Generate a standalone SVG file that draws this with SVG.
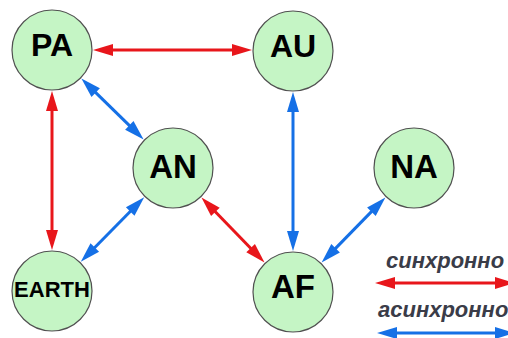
<svg xmlns="http://www.w3.org/2000/svg" width="508" height="338" viewBox="0 0 508 338">
  <style>
    .node circle { fill: #c5f5c5; stroke: #505050; stroke-width: 1.2; }
    .node text { font-family: "Liberation Sans", Arial, sans-serif; font-weight: bold; text-anchor: middle; fill: #000; }
    .sync { stroke: #e8161b; stroke-width: 3; fill: none; marker-start: url(#ar); marker-end: url(#ar); }
    .async { stroke: #1570e6; stroke-width: 3; fill: none; marker-start: url(#ab); marker-end: url(#ab); }
    .legend { font-family: "Liberation Sans", Arial, sans-serif; font-weight: bold; font-style: italic; font-size: 22px; fill: #3a3c48; }
  </style>
  <defs>
    <marker id="ar" markerUnits="userSpaceOnUse" markerWidth="22" markerHeight="14" refX="6" refY="6" orient="auto-start-reverse" viewBox="0 0 22 14" overflow="visible">
      <path d="M0,0 L20,6 L0,12 z" fill="#e8161b"/>
    </marker>
    <marker id="ab" markerUnits="userSpaceOnUse" markerWidth="22" markerHeight="14" refX="6" refY="6" orient="auto-start-reverse" viewBox="0 0 22 14" overflow="visible">
      <path d="M0,0 L20,6 L0,12 z" fill="#1570e6"/>
    </marker>
  </defs>

  <g id="connectors">
    <line class="sync" x1="107" y1="50" x2="238" y2="50"/>
    <line class="sync" x1="52" y1="105" x2="52" y2="236"/>
    <line class="async" x1="91.4" y1="88.4" x2="133.6" y2="129.6"/>
    <line class="async" x1="293" y1="106" x2="293" y2="237"/>
    <line class="async" x1="134.4" y1="207.2" x2="90.6" y2="251.8"/>
    <line class="sync" x1="211.2" y1="207.5" x2="254.8" y2="252.5"/>
    <line class="async" x1="375.6" y1="207.4" x2="331.4" y2="252.6"/>
  </g>

  <g id="PA" class="node">
    <circle cx="52" cy="50" r="40"/>
    <text x="52" y="56" font-size="32">PA</text>
  </g>
  <g id="AU" class="node">
    <circle cx="293" cy="51" r="40"/>
    <text x="293" y="57" font-size="32">AU</text>
  </g>
  <g id="AN" class="node">
    <circle cx="173" cy="168" r="40"/>
    <text x="173" y="178" font-size="33">AN</text>
  </g>
  <g id="NA" class="node">
    <circle cx="414" cy="168" r="40"/>
    <text x="414" y="178" font-size="33">NA</text>
  </g>
  <g id="EARTH" class="node">
    <circle cx="52" cy="291" r="40"/>
    <text x="52" y="297" font-size="22">EARTH</text>
  </g>
  <g id="AF" class="node">
    <circle cx="293" cy="292" r="40"/>
    <text x="293" y="298" font-size="33">AF</text>
  </g>

  <g id="legend">
    <text class="legend" x="386" y="268">синхронно</text>
    <line class="sync" x1="389" y1="283" x2="501" y2="283"/>
    <text class="legend" x="378" y="317">асинхронно</text>
    <line class="async" x1="391" y1="333" x2="501" y2="333"/>
  </g>
</svg>
